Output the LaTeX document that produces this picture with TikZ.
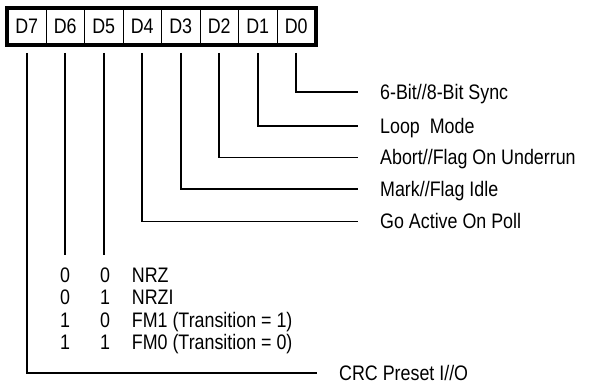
\documentclass[tikz,border=0pt]{standalone}
\usepackage{fontspec}
\setmainfont{Liberation Sans}[FakeStretch=0.85]
\begin{document}
\begin{tikzpicture}[x=1pt,y=-1pt,
  lab/.style={inner sep=0pt, text height=15pt, text depth=0pt, font=\fontsize{21}{22.5}\selectfont},
  cell/.style={lab, minimum width=38.5pt, minimum height=37pt},
  conn/.style={line width=1.6pt},
  sep/.style={line width=1.3pt}]
\useasboundingbox (0,0) rectangle (590,385);
% register cells
\foreach \i/\n in {0/7,1/6,2/5,3/4,4/3,5/2,6/1,7/0}
  \node[cell] (d\n) at (26.7+38.5*\i, 26.5) {D\n};
\foreach \n in {7,6,5,4,3,2,1}
  \draw[sep] (d\n.north east) -- (d\n.south east);
\draw[line width=4pt] (d7.north west) rectangle (d0.south east);
% connector starts
\foreach \n in {7,6,5,4,3,2,1,0}
  \coordinate (t\n) at ([yshift=-7.7pt]d\n.south);
% labels
\node[lab, anchor=west] (l0) at (380, 92) {6-Bit//8-Bit Sync};
\node[lab, anchor=west] (l1) at (380, 126) {Loop\ \ Mode};
\node[lab, anchor=west] (l2) at (380, 157.5) {Abort//Flag On Underrun};
\node[lab, anchor=west] (l3) at (380, 189) {Mark//Flag Idle};
\node[lab, anchor=west] (l4) at (380, 221.5) {Go Active On Poll};
\node[lab, anchor=west] (l7) at (339, 373) {CRC Preset I//O};
\foreach \n in {0,1,2,3,4,7}
  \draw[conn] (t\n) |- ([xshift=-22pt]l\n.west);
% D6, D5 lines
\coordinate (e6) at (65.2, 255);
\coordinate (e5) at (103.7, 255);
\draw[conn] (t6) -- (e6);
\draw[conn] (t5) -- (e5);
% table
\foreach \r/\a/\b/\t/\y in {1/0/0/NRZ/275, 2/0/1/NRZI/297, 3/1/0/FM1 (Transition = 1)/319.5, 4/1/1/FM0 (Transition = 0)/341.5}{
  \node[lab] (a\r) at (65.2, \y) {\a};
  \node[lab] (b\r) at (105, \y) {\b};
  \node[lab, anchor=west] (m\r) at (131.7, \y) {\t};
}
\end{tikzpicture}
\end{document}
